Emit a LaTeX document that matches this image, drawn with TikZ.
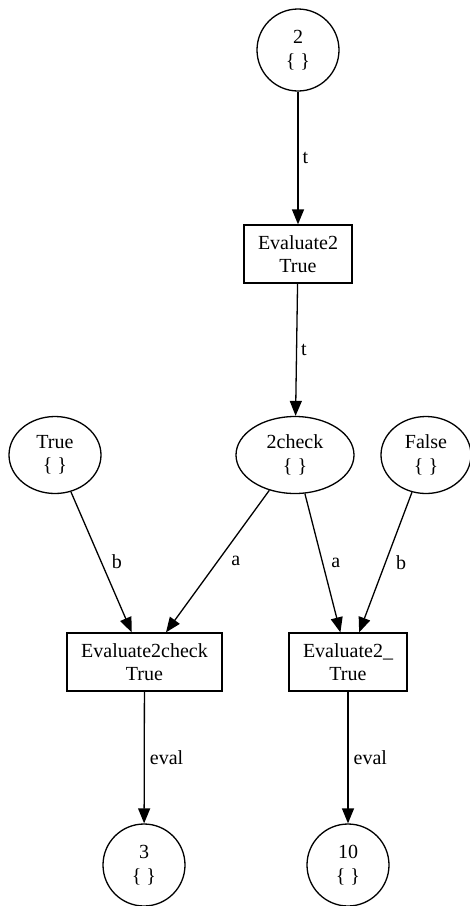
\documentclass[tikz,border=0pt]{standalone}
\usepackage{fontspec}
\setmainfont{Liberation Serif}
\usetikzlibrary{shapes.geometric,arrows.meta}
\begin{document}
\begin{tikzpicture}[x=1pt,y=-1pt,
  every node/.style={font=\fontsize{20}{23.5}\selectfont, align=center, inner sep=0pt},
  place/.style={circle, draw, line width=1.3pt, minimum size=82pt},
  oval/.style={ellipse, draw, line width=1.3pt, minimum height=77pt},
  trans/.style={rectangle, draw, line width=1.3pt, minimum height=58pt},
  arc/.style={line width=1.3pt, -{Triangle[length=15pt,width=12pt]}}
]
\useasboundingbox (0,0) rectangle (470,906);

% places and transitions
\node[place] (p2) at (298,50) {2\\\{ \}};
\node[trans, minimum width=108pt] (t1) at (298,254) {Evaluate2\\True};
\node[oval, minimum width=118pt] (chk) at (295,455) {2check\\\{ \}};
\node[oval, minimum width=92pt] (ptrue) at (55,455) {True\\\{ \}};
\node[oval, minimum width=90pt] (pfalse) at (426,455) {False\\\{ \}};
\node[trans, minimum width=155pt] (t2) at (144.5,662) {Evaluate2check\\True};
\node[trans, minimum width=118pt] (t3) at (348,662) {Evaluate2\_\\True};
\node[place] (p3) at (144,865) {3\\\{ \}};
\node[place] (p10) at (348,865) {10\\\{ \}};

% arcs
\draw[arc] (p2) -- node[right=4pt] {t} (t1);
\draw[arc] (t1) -- node[right=4pt] {t} (chk);
\draw[arc] (ptrue) -- node[right=10pt] {b} (t2);
\draw[arc] (chk) -- node[right=13pt] {a} (t2);
\draw[arc] (chk) -- node[right=8pt] {a} (t3);
\draw[arc] (pfalse) -- node[right=10pt] {b} (t3);
\draw[arc] (t2) -- node[right=5pt] {eval} (p3);
\draw[arc] (t3) -- node[right=5pt] {eval} (p10);
\end{tikzpicture}
\end{document}
